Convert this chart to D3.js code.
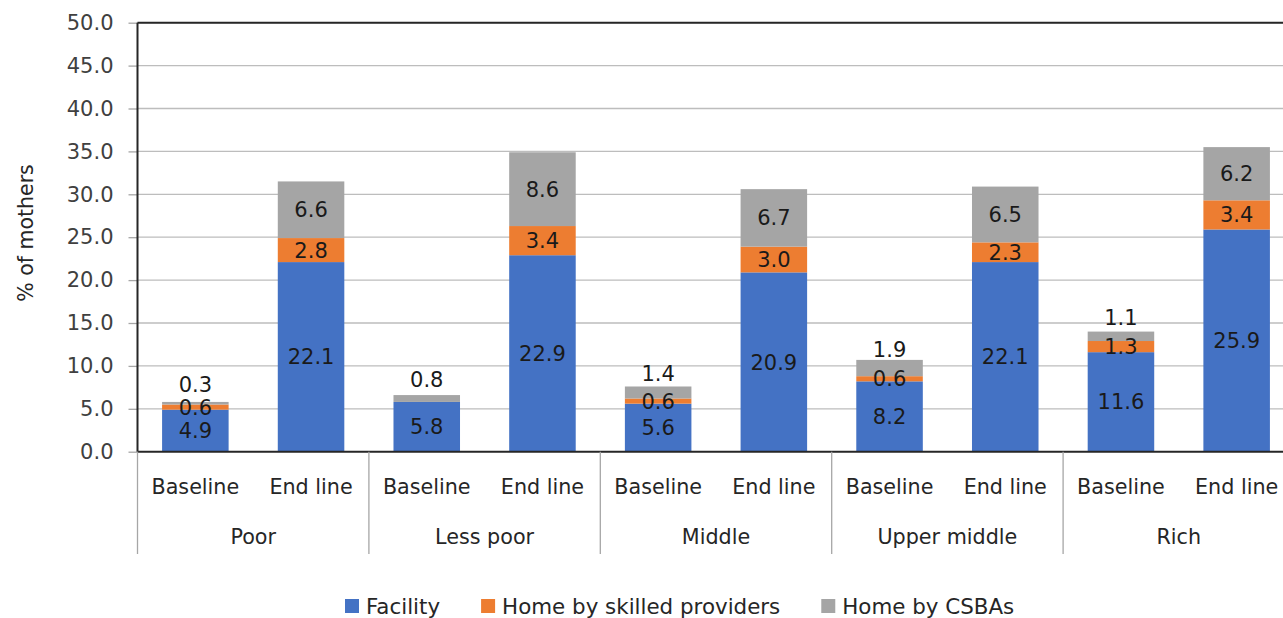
<!DOCTYPE html>
<html>
<head>
<meta charset="utf-8">
<script src="https://cdn.jsdelivr.net/npm/d3@7"></script>
<style>
  html, body { margin: 0; padding: 0; background: #fff; }
  svg { display: block; font-family: "DejaVu Sans", sans-serif; }
</style>
</head>
<body>
<svg id="chart" width="1283" height="618"></svg>
<script>
// Wealth quintiles and survey rounds
const groups = ["Poor", "Less poor", "Middle", "Upper middle", "Rich"];
const rounds = ["Baseline", "End line"];

// Place of delivery (% of mothers), one value per group × round
const facility = [4.9, 22.1, 5.8, 22.9, 5.6, 20.9, 8.2, 22.1, 11.6, 25.9];
const homeSkilled = [0.6, 2.8, 0.0, 3.4, 0.6, 3.0, 0.6, 2.3, 1.3, 3.4];
const homeCSBA = [0.3, 6.6, 0.8, 8.6, 1.4, 6.7, 1.9, 6.5, 1.1, 6.2];

const seriesNames = ["Facility", "Home by skilled providers", "Home by CSBAs"];
const seriesColors = ["#4472C4", "#ED7D31", "#A5A5A5"];
const yTicks = [0, 5, 10, 15, 20, 25, 30, 35, 40, 45, 50];

(function draw() {
  const svg = d3.select("#chart");
  const plotLeft = 137.5, plotTop = 22.7, plotBottom = 451.7;
  const step = 115.7;
  const nBars = groups.length * rounds.length;
  const plotRight = plotLeft + step * nBars;

  // one row per bar
  const rows = d3.range(nBars).map(i => ({
    group: groups[Math.floor(i / rounds.length)],
    round: rounds[i % rounds.length],
    "Facility": facility[i],
    "Home by skilled providers": homeSkilled[i],
    "Home by CSBAs": homeCSBA[i]
  }));

  const x = d3.scaleBand().domain(d3.range(nBars)).range([plotLeft, plotRight])
    .paddingInner(0.425).paddingOuter(0.2125);
  const y = d3.scaleLinear().domain([0, 50]).range([plotBottom, plotTop]);

  const layers = d3.stack().keys(seriesNames)(rows);

  // gridlines
  svg.append("g").selectAll("line").data(yTicks.slice(1)).join("line")
    .attr("x1", plotLeft).attr("x2", plotRight)
    .attr("y1", d => y(d)).attr("y2", d => y(d))
    .attr("stroke", "#BDBDBD").attr("stroke-width", 1.3);

  // y axis
  const yAxis = svg.append("g").attr("transform", `translate(${plotLeft},0)`)
    .call(d3.axisLeft(y).tickValues(yTicks).tickFormat(d3.format(".1f")).tickSize(9).tickPadding(15));
  yAxis.select(".domain").remove();
  yAxis.selectAll(".tick line").attr("stroke", "#A6A6A6").attr("stroke-width", 1.3);
  yAxis.selectAll(".tick text").attr("font-size", 21).attr("fill", "#404040")
    .attr("font-family", "DejaVu Sans, sans-serif");

  // bars
  const layerG = svg.append("g").selectAll("g").data(layers).join("g")
    .attr("fill", (d, i) => seriesColors[i]);
  layerG.selectAll("rect").data(d => d).join("rect")
    .attr("x", (d, i) => x(i))
    .attr("width", x.bandwidth())
    .attr("y", d => y(d[1]))
    .attr("height", d => y(d[0]) - y(d[1]));

  // value labels
  layers.forEach((layer, si) => {
    svg.append("g").selectAll("text")
      .data(layer.map((d, i) => ({ d, i })).filter(o => o.d[1] - o.d[0] > 0))
      .join("text")
      .attr("x", o => x(o.i) + x.bandwidth() / 2)
      .attr("y", o => {
        const mid = (y(o.d[0]) + y(o.d[1])) / 2;
        // small top segments on the baseline bars carry their label above the bar
        return (si === 2 && o.i % 2 === 0) ? mid - 19 : mid;
      })
      .attr("dy", "0.36em")
      .attr("text-anchor", "middle")
      .attr("font-size", 21)
      .attr("fill", "#1A1A1A")
      .text(o => d3.format(".1f")(o.d[1] - o.d[0]));
  });

  // plot frame: left, top and baseline
  const frame = svg.append("g").attr("stroke", "#262626").attr("stroke-width", 2);
  frame.append("line").attr("x1", plotLeft).attr("x2", plotRight).attr("y1", plotTop).attr("y2", plotTop);
  frame.append("line").attr("x1", plotLeft).attr("x2", plotLeft).attr("y1", plotTop).attr("y2", plotBottom);
  frame.append("line").attr("x1", plotLeft).attr("x2", plotRight).attr("y1", plotBottom).attr("y2", plotBottom);

  // two-level category axis
  const catG = svg.append("g");
  catG.selectAll("line").data(d3.range(groups.length + 1)).join("line")
    .attr("x1", i => plotLeft + i * step * rounds.length)
    .attr("x2", i => plotLeft + i * step * rounds.length)
    .attr("y1", plotBottom).attr("y2", 554)
    .attr("stroke", "#A6A6A6").attr("stroke-width", 1.3);
  catG.selectAll("text.round").data(rows).join("text").attr("class", "round")
    .attr("x", (d, i) => x(i) + x.bandwidth() / 2)
    .attr("y", 487).attr("dy", "0.36em")
    .attr("text-anchor", "middle").attr("font-size", 20.7).attr("fill", "#262626")
    .text(d => d.round);
  catG.selectAll("text.group").data(groups).join("text").attr("class", "group")
    .attr("x", (d, i) => plotLeft + (i + 0.5) * step * rounds.length)
    .attr("y", 537).attr("dy", "0.36em")
    .attr("text-anchor", "middle").attr("font-size", 20.7).attr("fill", "#262626")
    .text(d => d);

  // y axis title
  svg.append("text")
    .attr("transform", "translate(26,233) rotate(-90)")
    .attr("dy", "0.36em")
    .attr("text-anchor", "middle").attr("font-size", 20.5).attr("fill", "#262626")
    .text("% of mothers");

  // legend
  const legend = svg.append("g");
  let lx = 345;
  seriesNames.forEach((name, i) => {
    legend.append("rect").attr("x", lx).attr("y", 599).attr("width", 14).attr("height", 14)
      .attr("fill", seriesColors[i]);
    const t = legend.append("text").attr("x", lx + 21).attr("y", 606).attr("dy", "0.36em")
      .attr("font-size", 21.4).attr("fill", "#262626").text(name);
    lx += 21 + t.node().getComputedTextLength() + 41;
  });
})();
</script>
</body>
</html>
